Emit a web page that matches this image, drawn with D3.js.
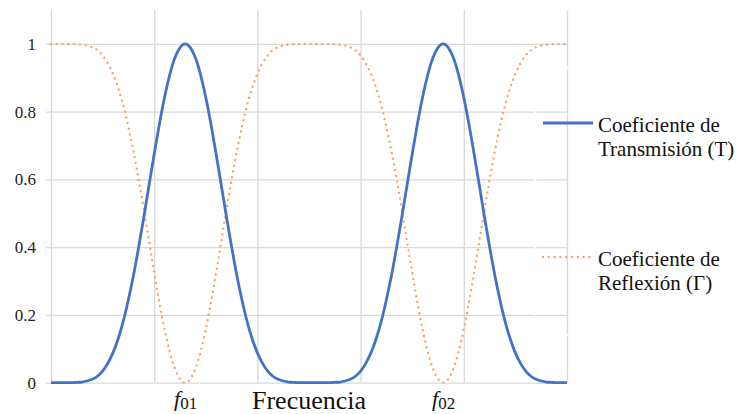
<!DOCTYPE html>
<html><head><meta charset="utf-8">
<script src="https://cdn.jsdelivr.net/npm/d3@7"></script>
<style>body{margin:0;background:#fff}svg{display:block}</style>
</head><body><svg id="c" width="739" height="414"></svg>
<script>
const freq = [0,1,2,3,4,5,6,7,8,9,10,11,12,13,14,15,16,17,18,19,20,21,22,23,24,25,26,27,28,29,30,31,32,33,34,35,36,37,38,39,40,41,42,43,44,45,46,47,48,49,50,51,52,53,54,55,56,57,58,59,60,61,62,63,64,65,66,67,68,69,70,71,72,73,74,75,76,77,78,79,80,81,82,83,84,85,86,87,88,89,90,91,92,93,94,95,96,97,98,99,100];
const transmission = [0,0,0,0,0,0.001,0.002,0.005,0.010,0.019,0.034,0.057,0.088,0.129,0.181,0.245,0.318,0.401,0.490,0.583,0.675,0.763,0.842,0.908,0.958,0.989,1,0.989,0.958,0.908,0.842,0.763,0.675,0.583,0.490,0.401,0.318,0.245,0.181,0.129,0.088,0.057,0.034,0.019,0.010,0.005,0.002,0.001,0,0,0,
  0,0,0,0,0.001,0.002,0.005,0.010,0.019,0.034,0.057,0.088,0.129,0.181,0.245,0.318,0.401,0.490,0.583,0.675,0.763,0.842,0.908,0.958,0.989,1,0.989,0.958,0.908,0.842,0.763,0.675,0.583,0.490,0.401,0.318,0.245,0.181,0.129,0.088,0.057,0.034,0.019,0.010,0.005,0.002,0.001,0,0,0];
const reflection = [1,1,1,1,1,0.999,0.998,0.995,0.990,0.981,0.966,0.943,0.912,0.871,0.819,0.755,0.682,0.599,0.510,0.417,0.325,0.237,0.158,0.092,0.042,0.011,0,0.011,0.042,0.092,0.158,0.237,0.325,0.417,0.510,0.599,0.682,0.755,0.819,0.871,0.912,0.943,0.966,0.981,0.990,0.995,0.998,0.999,1,1,1,
  1,1,1,1,0.999,0.998,0.995,0.990,0.981,0.966,0.943,0.912,0.871,0.819,0.755,0.682,0.599,0.510,0.417,0.325,0.237,0.158,0.092,0.042,0.011,0,0.011,0.042,0.092,0.158,0.237,0.325,0.417,0.510,0.599,0.682,0.755,0.819,0.871,0.912,0.943,0.966,0.981,0.990,0.995,0.998,0.999,1,1,1];
const yTicks = [0, 0.2, 0.4, 0.6, 0.8, 1];
const yTickLabels = ["0", "0.2", "0.4", "0.6", "0.8", "1"];
const xGrid = [0, 20, 40, 60, 80, 100];
const xTickPos = [26, 76];
const xTickSub = ["01", "02"];
const xTitle = "Frecuencia";
const legendT = ["Coeficiente de", "Transmisión (T)"];
const legendR = ["Coeficiente de", "Reflexión (Γ)"];

const FONT = "'Liberation Serif','Times New Roman',serif";
const BLUE = "#4472C4", ORANGE = "#F2A470", GRID = "#D9D9D9";
const svg = d3.select("#c");
const x = d3.scaleLinear().domain([0, 100]).range([51, 567]);
const y = d3.scaleLinear().domain([0, 1.1]).range([382.7, 10]);

// vertical gridlines
svg.append("g").attr("transform", `translate(0,${y(0)})`)
  .call(d3.axisBottom(x).tickValues(xGrid).tickSize(-(y(0) - y(1.1))).tickFormat(""))
  .call(g => g.select(".domain").remove())
  .call(g => g.selectAll("line").attr("stroke", GRID).attr("stroke-width", 1.3));

// horizontal gridlines + small ticks
svg.append("g").attr("transform", `translate(${x(0)},0)`)
  .call(d3.axisLeft(y).tickValues(yTicks).tickSizeInner(-(x(100) - x(0))).tickSizeOuter(0).tickFormat(""))
  .call(g => g.select(".domain").remove())
  .call(g => g.selectAll("line").attr("stroke", GRID).attr("stroke-width", 1.3));
svg.append("g").attr("transform", `translate(${x(0)},0)`)
  .call(d3.axisLeft(y).tickValues(yTicks).tickSize(5).tickPadding(10).tickFormat((d, i) => yTickLabels[i]))
  .call(g => g.select(".domain").remove())
  .call(g => g.selectAll("line").attr("stroke", GRID).attr("stroke-width", 1.3))
  .call(g => g.selectAll("text").attr("font-family", FONT).attr("font-size", 17).attr("fill", "#222"));

// legend border (white) interrupting gridlines
svg.append("rect").attr("x", 535.5).attr("y", 67.5).attr("width", 210).attr("height", 268)
  .attr("fill", "none").attr("stroke", "#fff").attr("stroke-width", 2);

const line = d3.line().x((d, i) => x(freq[i])).y(d => y(d)).curve(d3.curveMonotoneX);

svg.append("path").datum(reflection).attr("d", line).attr("fill", "none")
  .attr("stroke", ORANGE).attr("stroke-width", 2.4).attr("stroke-linecap", "round")
  .attr("stroke-dasharray", "0 5.8");
svg.append("path").datum(transmission).attr("d", line).attr("fill", "none")
  .attr("stroke", BLUE).attr("stroke-width", 2.8).attr("stroke-linejoin", "round");

// x tick labels f01, f02
const xa = svg.append("g").attr("transform", `translate(0,${y(0)})`)
  .call(d3.axisBottom(x).tickValues(xTickPos).tickSize(0).tickPadding(0).tickFormat(""));
xa.select(".domain").remove();
xa.selectAll(".tick").each(function(d, i) {
  const t = d3.select(this).append("text").attr("y", 23).attr("fill", "#111")
    .attr("font-family", FONT).attr("text-anchor", "middle");
  t.append("tspan").attr("font-style", "italic").attr("font-size", 22).text("f");
  t.append("tspan").attr("font-size", 17).attr("dy", 3).text(xTickSub[i]);
});

svg.append("text").attr("x", 309).attr("y", 409).attr("text-anchor", "middle")
  .attr("font-family", FONT).attr("font-size", 26).attr("fill", "#111").text(xTitle);

// legend
function legendItem(ly, lines, color, dashed) {
  const l = svg.append("line").attr("x1", 543).attr("x2", 593).attr("y1", ly).attr("y2", ly)
    .attr("stroke", color);
  if (dashed) l.attr("stroke-width", 2.4).attr("stroke-linecap", "round").attr("stroke-dasharray", "0 5.8");
  else l.attr("stroke-width", 2.8);
  lines.forEach((s, i) => svg.append("text").attr("x", 598).attr("y", ly + 9 + i * 24)
    .attr("font-family", FONT).attr("font-size", 21).attr("fill", "#111").text(s));
}
legendItem(123, legendT, BLUE, false);
legendItem(257, legendR, ORANGE, true);
</script></body></html>
